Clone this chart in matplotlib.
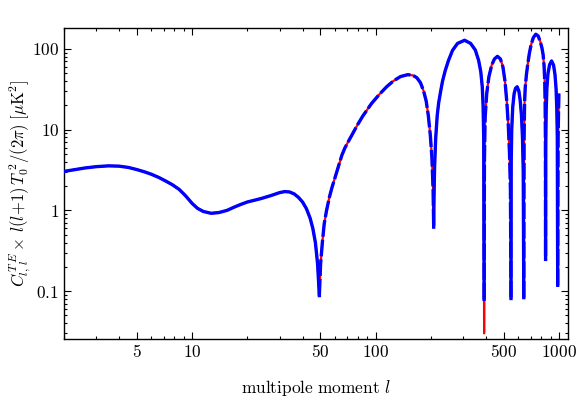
import numpy as np
import matplotlib
matplotlib.use("Agg")
import matplotlib.pyplot as plt
from matplotlib.ticker import FixedLocator, NullFormatter

plt.rcParams['mathtext.fontset'] = 'cm'
plt.rcParams['font.family'] = 'serif'
plt.rcParams['font.serif'] = ['DejaVu Serif']

# multipole moments and signed C_l^TE * l(l+1) T0^2/(2pi) [muK^2]
ell = [2, 2.3, 2.6, 3, 3.5, 4, 4.5, 5, 5.5, 6, 6.6, 7.2, 7.8, 8.5, 9.2, 10, 10.7, 11.5, 12.7, 14,
       15.5, 17, 18.5, 20, 22, 24, 27, 30, 32, 34, 36, 38, 40, 42, 44, 45.5, 47, 48.3, 49.4,
       50.2, 51.3, 52.5, 54, 56, 58, 60, 63, 65.5, 68, 71, 75, 80, 85, 95, 105, 115, 125, 137,
       150, 160, 168, 176, 183, 189, 194, 199, 203, 206, 207.6,
       208.5, 210, 213, 217, 221, 226, 232, 240, 250, 263, 280, 306, 330, 350, 365, 375, 382,
       386, 389, 391,
       392.5, 396, 404, 415, 430, 445, 462, 480, 495, 508, 520, 530, 538, 544, 548,
       549.5, 553, 560, 570, 580, 592, 605, 615, 625, 633, 639, 643.5,
       646, 650, 655, 665, 677, 690, 705, 725, 748, 770, 790, 808, 820, 830, 837, 841, 844, 846,
       847.5, 852, 860, 872, 890, 912, 935, 952, 965, 974, 980, 985,
       990, 995, 1000]
cte = [3.04, 3.2, 3.35, 3.48, 3.56, 3.53, 3.4, 3.2, 3.0, 2.8, 2.55, 2.3, 2.08, 1.82, 1.52, 1.22, 1.06, 0.97, 0.92, 0.94,
       1.0, 1.1, 1.19, 1.27, 1.34, 1.41, 1.53, 1.66, 1.71, 1.69, 1.6, 1.45, 1.27, 1.05, 0.8, 0.6, 0.4, 0.22, 0.088,
       -0.22, -0.4, -0.68, -0.98, -1.45, -1.95, -2.5, -3.6, -4.8, -5.9, -7.1, -8.9, -11.6, -14.6, -21, -27.4, -34, -40, -45.5,
       -48, -47, -44, -38, -30, -22.5, -15, -8.5, -4.5, -1.8, -0.62,
       1.5, 3.5, 8, 15, 21.5, 29, 40, 54, 72, 96, 117, 128, 117, 97, 72, 52, 34,
       20, 8, 0.079,
       -4, -14, -28, -45, -63, -75, -81, -75, -60, -40, -22, -11, -5, -1.8, -0.081,
       4, 10, 19, 28, 32.5, 34, 30, 23, 15, 8, 3, 0.083,
       -8, -22, -33, -48, -66, -88, -112, -138, -152, -145, -125, -103, -85, -62, -40, -22, -8, -0.247,
       6, 17, 33, 50, 64, 71, 63, 48, 32, 18, 8, 0.118,
       -8, -16, -28]

# the red curve reaches deeper at one zero crossing
red_dip_ell = 391
red_dip_value = 0.03

x_ticks = [5, 10, 50, 100, 500, 1000]
x_labels = ['5', '10', '50', '100', '500', '1000']
y_ticks = [0.1, 1, 10, 100]
y_labels = ['0.1', '1', '10', '100']

ell_a = np.array(ell, dtype=float)
cte_a = np.array(cte, dtype=float)
absv = np.abs(cte_a)
red = absv.copy()
red[ell_a == red_dip_ell] = red_dip_value

fig = plt.figure(figsize=(5.76, 3.99), dpi=100)
ax = fig.add_axes([0.111, 0.150, 0.875, 0.780])

ax.plot(ell_a, red, color='#ff0000', lw=1.6, solid_capstyle='butt', zorder=2)

# blue: solid where positive, dashed where negative
seg_neg = (cte_a[:-1] + cte_a[1:]) < 0
start = 0
for i in range(1, len(seg_neg) + 1):
    if i == len(seg_neg) or seg_neg[i] != seg_neg[start]:
        xs = ell_a[start:i + 1]
        ys = absv[start:i + 1]
        if seg_neg[start]:
            ax.plot(xs, ys, color='#0000ff', lw=2.4, dashes=(5, 0.9), zorder=3)
        else:
            ax.plot(xs, ys, color='#0000ff', lw=2.4, zorder=3)
        start = i

ax.set_xscale('log')
ax.set_yscale('log')
ax.set_xlim(2, 1120)
ax.set_ylim(0.0254, 182)

ax.xaxis.set_major_locator(FixedLocator(x_ticks))
ax.set_xticklabels(['$%s$' % s for s in x_labels])
ax.yaxis.set_major_locator(FixedLocator(y_ticks))
ax.set_yticklabels(['$%s$' % s for s in y_labels])

xminor = [m * 10 ** k for k in range(0, 4) for m in range(1, 10)]
xminor = [v for v in xminor if 2 <= v <= 1120 and v not in x_ticks]
ax.xaxis.set_minor_locator(FixedLocator(xminor))
ax.xaxis.set_minor_formatter(NullFormatter())
yminor = [m * 10.0 ** k for k in range(-2, 3) for m in range(1, 10)]
yminor = [v for v in yminor if 0.0254 <= v <= 182 and not any(abs(v - t) < 1e-9 for t in y_ticks)]
ax.yaxis.set_minor_locator(FixedLocator(yminor))
ax.yaxis.set_minor_formatter(NullFormatter())

ax.tick_params(which='both', direction='in', top=True, right=True, labelsize=12.5, width=0.8)
ax.tick_params(which='major', length=5)
ax.tick_params(which='minor', length=2.5)
for s in ax.spines.values():
    s.set_linewidth(1.0)

ax.set_xlabel(r'$\mathrm{multipole\ moment}\ l$', fontsize=12.5, labelpad=12)
ax.set_ylabel(r'$C_{l,\,l}^{\,T\,E}\times\,l(l\!+\!1)\,T_0^{\;2}/(2\pi)\;[\mu\mathrm{K}^2]$',
              fontsize=12, labelpad=-1)

fig.savefig('out.png', dpi=100)
